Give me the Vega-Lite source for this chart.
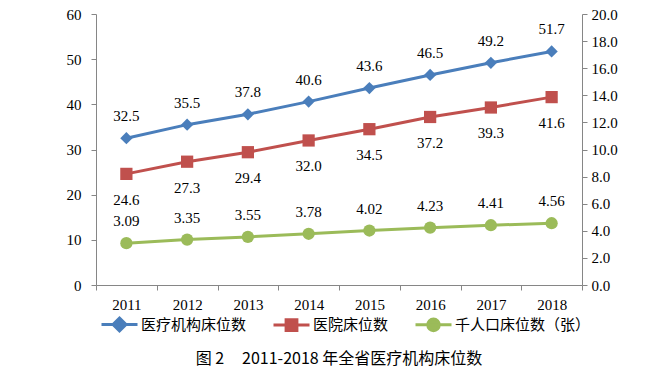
{
  "$schema": "https://vega.github.io/schema/vega-lite/v6.json",
  "width": 486,
  "height": 271,
  "autosize": {"type": "none"},
  "padding": {"left": 96, "top": 14, "right": 81, "bottom": 95},
  "background": "white",
  "config": {
    "font": "Liberation Serif",
    "view": {"stroke": null},
    "axis": {
      "domainColor": "#868686",
      "tickColor": "#868686",
      "tickSize": 5,
      "labelColor": "black",
      "labelFont": "Liberation Serif",
      "labelFontSize": 15,
      "grid": false,
      "title": null
    }
  },
  "title": {
    "text": "图 2\u00a0\u00a0\u00a0\u00a0\u00a02011-2018 年全省医疗机构床位数",
    "orient": "bottom",
    "anchor": "middle",
    "font": "Noto Sans CJK SC",
    "fontSize": 16,
    "fontWeight": "normal",
    "color": "black",
    "offset": 14
  },
  "data": {
    "values": [
      {"year": "2011", "series": "医疗机构床位数", "value": 32.5},
      {"year": "2012", "series": "医疗机构床位数", "value": 35.5},
      {"year": "2013", "series": "医疗机构床位数", "value": 37.8},
      {"year": "2014", "series": "医疗机构床位数", "value": 40.6},
      {"year": "2015", "series": "医疗机构床位数", "value": 43.6},
      {"year": "2016", "series": "医疗机构床位数", "value": 46.5},
      {"year": "2017", "series": "医疗机构床位数", "value": 49.2},
      {"year": "2018", "series": "医疗机构床位数", "value": 51.7},
      {"year": "2011", "series": "医院床位数", "value": 24.6},
      {"year": "2012", "series": "医院床位数", "value": 27.3},
      {"year": "2013", "series": "医院床位数", "value": 29.4},
      {"year": "2014", "series": "医院床位数", "value": 32.0},
      {"year": "2015", "series": "医院床位数", "value": 34.5},
      {"year": "2016", "series": "医院床位数", "value": 37.2},
      {"year": "2017", "series": "医院床位数", "value": 39.3},
      {"year": "2018", "series": "医院床位数", "value": 41.6},
      {"year": "2011", "series": "千人口床位数（张）", "value": 3.09},
      {"year": "2012", "series": "千人口床位数（张）", "value": 3.35},
      {"year": "2013", "series": "千人口床位数（张）", "value": 3.55},
      {"year": "2014", "series": "千人口床位数（张）", "value": 3.78},
      {"year": "2015", "series": "千人口床位数（张）", "value": 4.02},
      {"year": "2016", "series": "千人口床位数（张）", "value": 4.23},
      {"year": "2017", "series": "千人口床位数（张）", "value": 4.41},
      {"year": "2018", "series": "千人口床位数（张）", "value": 4.56}
    ]
  },
  "encoding": {
    "x": {
      "field": "year",
      "type": "ordinal",
      "bandPosition": 0.5,
      "scale": {"type": "band", "paddingInner": 0, "paddingOuter": 0},
      "axis": {"tickBand": "extent", "labelAngle": 0, "labelPadding": 7}
    },
    "color": {
      "field": "series",
      "type": "nominal",
      "scale": {
        "domain": ["医疗机构床位数", "医院床位数", "千人口床位数（张）"],
        "range": ["#4A7EBB", "#C0504D", "#9BBB59"]
      },
      "legend": {
        "orient": "none",
        "direction": "horizontal",
        "legendX": 4,
        "legendY": 291,
        "title": null,
        "symbolType": "stroke",
        "symbolSize": 1296,
        "symbolStrokeWidth": 3,
        "labelFont": "Noto Sans CJK SC",
        "labelFontSize": 15,
        "labelColor": "black",
        "labelOffset": 2,
        "columnPadding": 20,
        "encode": {
          "symbols": {
            "update": {
              "shape": {"signal": "datum.value === '医疗机构床位数' ? 'M-1,0H1M0,-0.36L0.36,0L0,0.36L-0.36,0Z' : datum.value === '医院床位数' ? 'M-1,0H1M-0.3,-0.3H0.3V0.3H-0.3Z' : 'M-1,0H1M-0.32,0A0.32,0.32 0 1,0 0.32,0A0.32,0.32 0 1,0 -0.32,0Z'"},
              "fill": {"scale": "color", "field": "value"},
              "stroke": {"scale": "color", "field": "value"},
              "strokeWidth": {"value": 3},
              "opacity": {"value": 1}
            }
          }
        }
      }
    }
  },
  "layer": [
    {
      "transform": [{"filter": "datum.series !== '千人口床位数（张）'"}],
      "encoding": {
        "y": {
          "field": "value",
          "type": "quantitative",
          "scale": {"domain": [0, 60], "nice": false},
          "axis": {"values": [0, 10, 20, 30, 40, 50, 60], "labelPadding": 10}
        }
      },
      "layer": [
        {"mark": {"type": "line", "strokeWidth": 3}},
        {
          "transform": [{"filter": "datum.series === '医疗机构床位数'"}],
          "mark": {"type": "point", "filled": true, "opacity": 1, "shape": "diamond", "size": 150}
        },
        {
          "transform": [{"filter": "datum.series === '医院床位数'"}],
          "mark": {"type": "point", "filled": true, "opacity": 1, "shape": "square", "size": 150}
        },
        {
          "transform": [{"filter": "datum.series === '医疗机构床位数'"}],
          "mark": {"type": "text", "dy": -22, "fontSize": 15, "font": "Liberation Serif", "color": "black"},
          "encoding": {"text": {"field": "value", "type": "quantitative", "format": ".1f"}, "color": {"value": "black"}}
        },
        {
          "transform": [{"filter": "datum.series === '医院床位数'"}],
          "mark": {"type": "text", "dy": 26, "fontSize": 15, "font": "Liberation Serif", "color": "black"},
          "encoding": {"text": {"field": "value", "type": "quantitative", "format": ".1f"}, "color": {"value": "black"}}
        },
        {
          "data": {"values": [{"t": "单位：万张"}]},
          "mark": {"type": "text", "align": "left", "baseline": "middle", "dx": 14, "dy": 5, "fontSize": 15, "font": "Noto Sans CJK SC", "color": "black"},
          "encoding": {
            "x": {"datum": "2011", "type": "ordinal", "bandPosition": 0.5},
            "y": {"datum": 60, "type": "quantitative"},
            "text": {"field": "t", "type": "nominal"},
            "color": {"value": "black"}
          }
        }
      ]
    },
    {
      "transform": [{"filter": "datum.series === '千人口床位数（张）'"}],
      "encoding": {
        "y": {
          "field": "value",
          "type": "quantitative",
          "scale": {"domain": [0, 20], "nice": false},
          "axis": {"orient": "right", "values": [0, 2, 4, 6, 8, 10, 12, 14, 16, 18, 20], "format": ".1f", "labelPadding": 4}
        }
      },
      "layer": [
        {"mark": {"type": "line", "strokeWidth": 3}},
        {
          "mark": {"type": "point", "filled": true, "opacity": 1, "shape": "circle", "size": 150}
        },
        {
          "mark": {"type": "text", "dy": -22, "fontSize": 15, "font": "Liberation Serif", "color": "black"},
          "encoding": {"text": {"field": "value", "type": "quantitative", "format": ".2f"}, "color": {"value": "black"}}
        }
      ]
    }
  ],
  "resolve": {"scale": {"y": "independent"}}
}
